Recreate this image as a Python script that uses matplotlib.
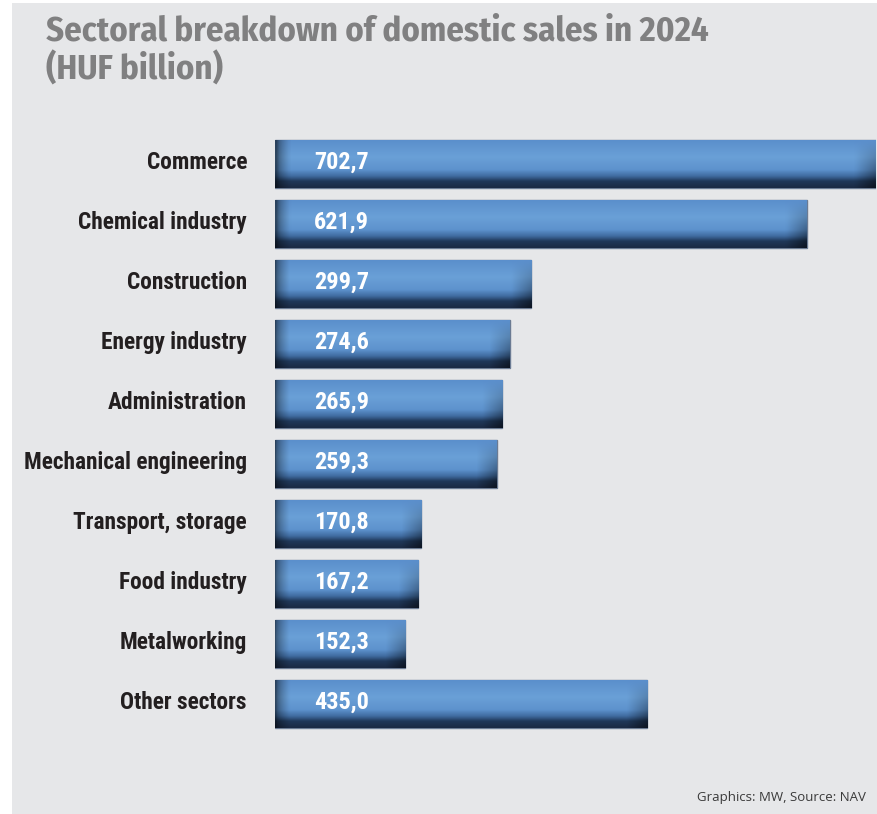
import matplotlib.pyplot as plt
import matplotlib.patches as mpatches
from matplotlib import font_manager as fm
from matplotlib.colors import LinearSegmentedColormap
import numpy as np

# data
sectors = ['Commerce', 'Chemical industry', 'Construction', 'Energy industry',
           'Administration', 'Mechanical engineering', 'Transport, storage',
           'Food industry', 'Metalworking', 'Other sectors']
sales = [702.7, 621.9, 299.7, 274.6, 265.9, 259.3, 170.8, 167.2, 152.3, 435.0]
labels = ['702,7', '621,9', '299,7', '274,6', '265,9', '259,3', '170,8',
          '167,2', '152,3', '435,0']

title = 'Sectoral breakdown of domestic sales in 2024\n(HUF billion)'
note = 'Graphics: MW, Source: NAV'

# pick a condensed bold face if one is installed
installed = {f.name for f in fm.fontManager.ttflist}
cond_pick = [n for n in ['Roboto Condensed', 'PT Sans Narrow', 'Open Sans Condensed',
                         'Fira Sans Condensed', 'Archivo Narrow',
                         'Liberation Sans Narrow', 'Roboto'] if n in installed]
semi_pick = [n for n in ['Fira Sans Condensed', 'Roboto Condensed', 'PT Sans Narrow',
                         'Roboto'] if n in installed]
cond = cond_pick[:1] + ['DejaVu Sans']
semi = semi_pick[:1] + ['DejaVu Sans']

W, H, DPI = 878, 814, 100
fig = plt.figure(figsize=(W / DPI, H / DPI), dpi=DPI, facecolor='white')

# gray panel
fig.patches.append(mpatches.Rectangle((12 / W, 0), 1, 1 - 3 / H,
                                      transform=fig.transFigure,
                                      facecolor='#e6e7e9', edgecolor='none', zorder=-5))

# axes placed in pixel units
ax_left, ax_right = 275, 876
ax_top, ax_bot = 134, 734
ax = fig.add_axes([ax_left / W, 1 - ax_bot / H, (ax_right - ax_left) / W,
                   (ax_bot - ax_top) / H])
ax.set_facecolor('none')
ax.axis('off')

ypos = np.arange(len(sectors))
bh = 0.8
bars = ax.barh(ypos, sales, height=bh, color='#5f95d0', edgecolor='#6b7b93',
               linewidth=1.0, zorder=2)

# vertical shading of the bars (top -> bottom)
vcmap = LinearSegmentedColormap.from_list('bar', [
    (0.0, '#5b8fcc'), (0.35, '#6aa0d7'), (0.62, '#5d92cd'),
    (0.76, '#3f6a9e'), (0.86, '#203859'), (1.0, '#1b2a44')])
ny, nx = 60, 200
vert = vcmap(np.linspace(0, 1, ny))[:, :3]
px_per_unit = (ax_right - ax_left) / max(sales)
for i, (v, bar) in enumerate(zip(sales, bars)):
    y = ypos[i]
    xs = np.linspace(0, v, nx) * px_per_unit
    img = np.repeat(vert[:, None, :], nx, axis=1)
    # darker rounded left end
    left = np.clip(xs / 14.0, 0, 1)[None, :, None]
    img = img * (0.45 + 0.55 * left ** 0.6)
    # shaded lower right corner
    right = np.clip((xs[-1] - xs) / 20.0, 0, 1)[None, :, None]
    low = np.linspace(0, 1, ny)[:, None, None]
    img = img * (1 - 0.5 * (1 - right) * low)
    im = ax.imshow(img, extent=(0, v, y + bh / 2, y - bh / 2), aspect='auto',
                   interpolation='bilinear', zorder=3)
    im.set_clip_path(bar)
    ax.text(39 / px_per_unit, y - 0.03, labels[i], color='white',
            fontsize=17.5, fontweight='bold', family=cond, va='center', ha='left',
            zorder=4)
    ax.text(-28 / px_per_unit, y - 0.03, sectors[i], color='#231f20', fontsize=16.8,
            fontweight='bold', family=cond, va='center', ha='right', zorder=4,
            clip_on=False)

ax.set_xlim(0, max(sales))
ax.set_ylim(len(sectors) - 0.5, -0.5)

fig.text(46 / W, 1 - 14 / H, title, color='#808081', fontsize=25,
         fontweight='bold', family=semi, va='top', ha='left', linespacing=1.14)
fig.text(866 / W, 1 - 798 / H, note, color='#3a3a3a', fontsize=9.5,
         family=['Open Sans', 'DejaVu Sans'], va='center', ha='right')

fig.savefig('out.png', dpi=DPI, facecolor='white')
